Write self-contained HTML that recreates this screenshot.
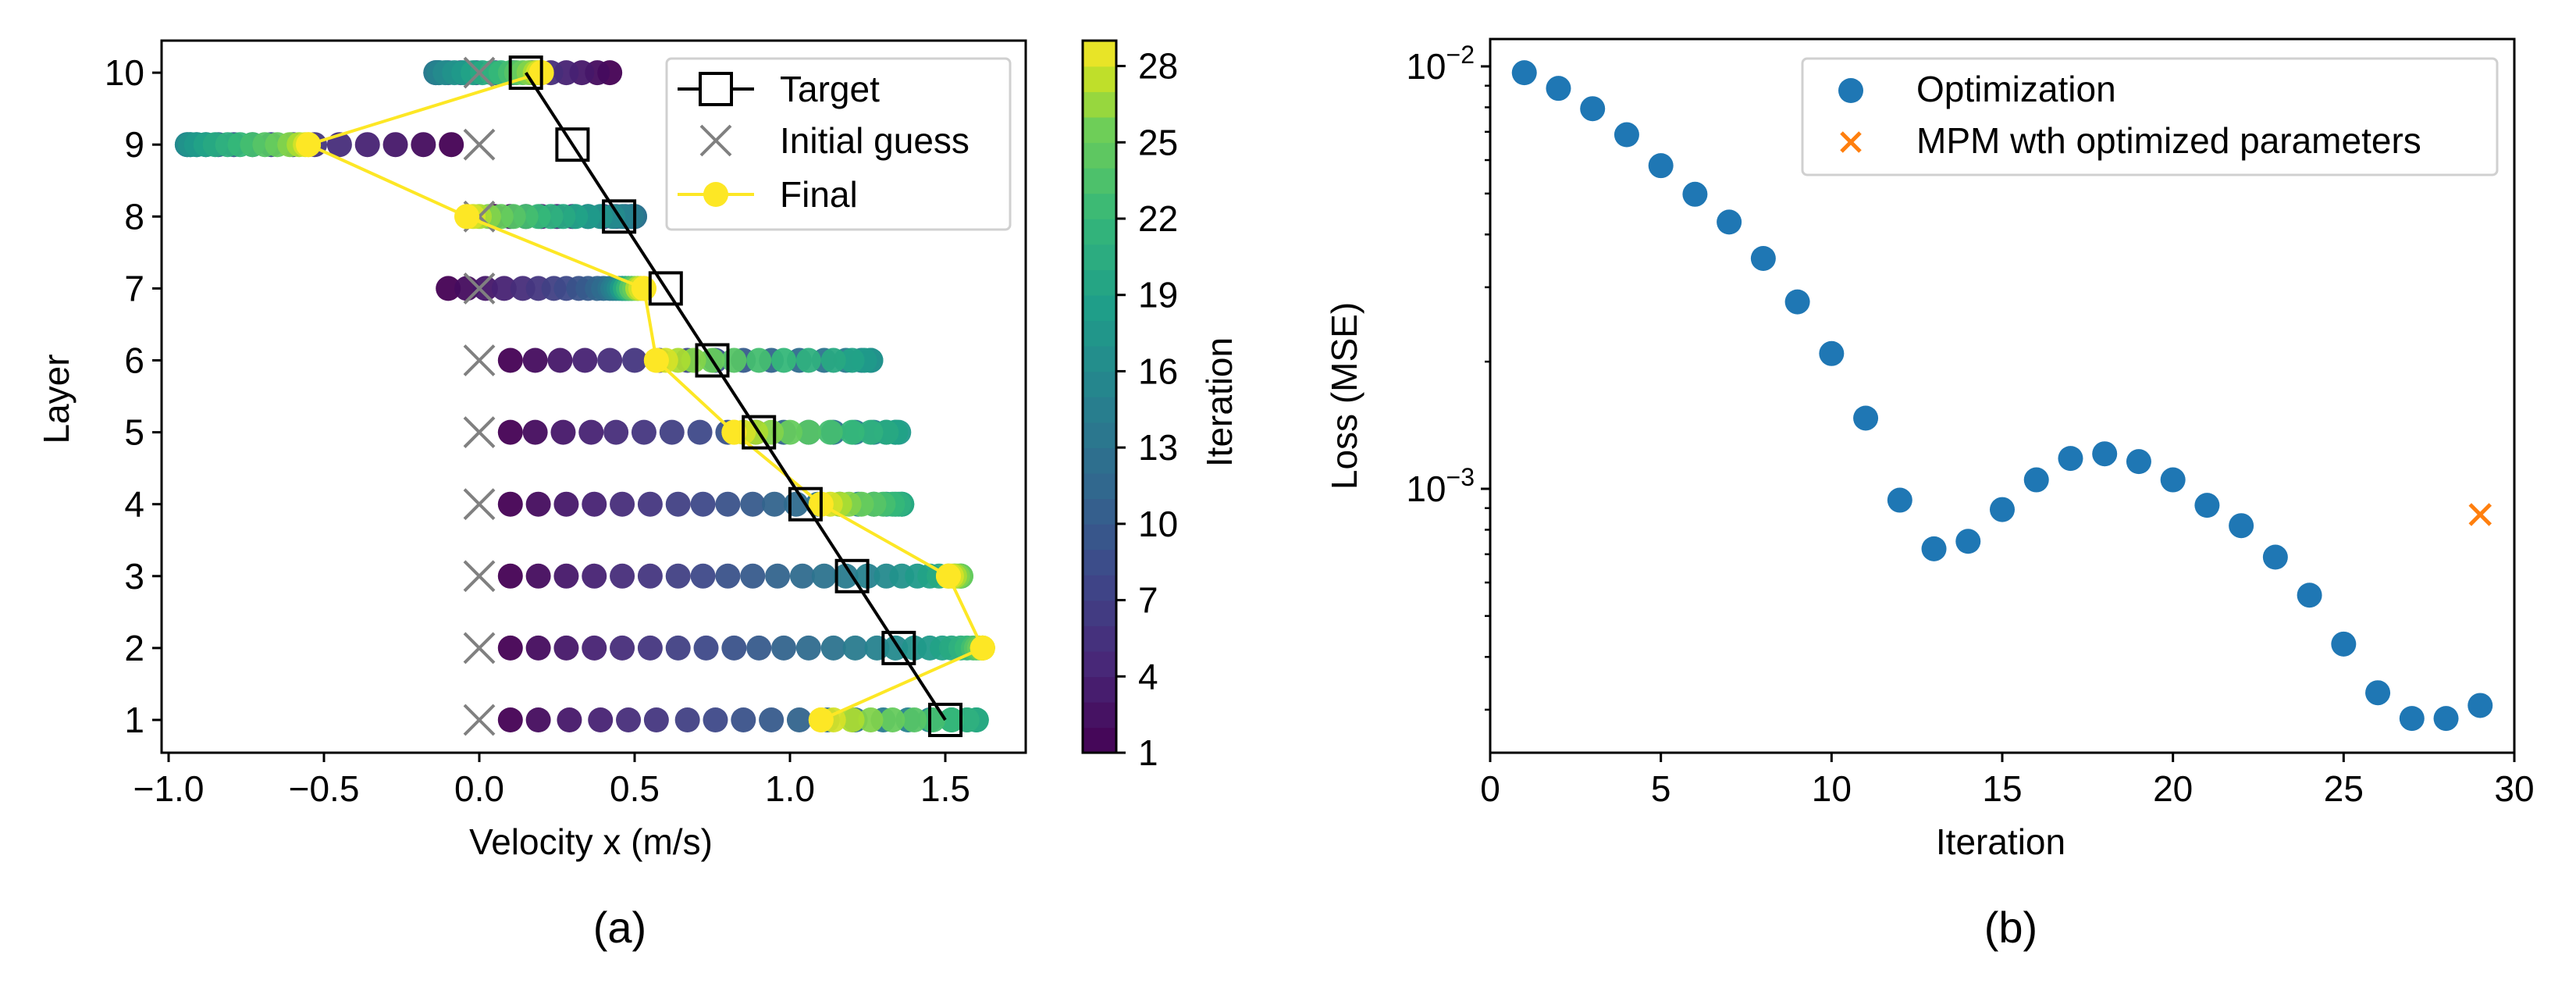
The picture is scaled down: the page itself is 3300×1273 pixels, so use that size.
<!DOCTYPE html>
<html><head><meta charset="utf-8">
<style>
html,body{margin:0;padding:0;background:#fff;}
svg{display:block;}
text{font-family:"Liberation Sans","DejaVu Sans",sans-serif;fill:#000;}
</style></head>
<body>
<svg id="fig" width="3300" height="1273" viewBox="0 0 3300 1273" xmlns="http://www.w3.org/2000/svg">
<rect x="0" y="0" width="3300" height="1273" fill="#fff"/>
<g id="pa"></g>
<g id="pb"></g>
</svg>
<script>
// ---- Panel (a) data ----
const layers = [1,2,3,4,5,6,7,8,9,10];
const iterations = Array.from({length:29},(_, i)=>i+1);
const layer1 = [0.10,0.19,0.29,0.39,0.48,0.57,0.67,0.76,0.85,0.94,1.03,1.12,1.21,1.30,1.38,1.45,1.52,1.57,1.60,1.60,1.57,1.52,1.46,1.40,1.33,1.26,1.20,1.14,1.10];
const layer2 = [0.10,0.19,0.28,0.37,0.46,0.55,0.64,0.73,0.82,0.90,0.98,1.06,1.14,1.21,1.28,1.34,1.40,1.45,1.49,1.52,1.55,1.57,1.59,1.60,1.61,1.62,1.62,1.62,1.62];
const layer3 = [0.10,0.19,0.28,0.37,0.46,0.55,0.64,0.72,0.80,0.88,0.96,1.04,1.11,1.18,1.25,1.31,1.36,1.41,1.45,1.48,1.51,1.53,1.55,1.55,1.55,1.54,1.53,1.52,1.51];
const layer4 = [0.10,0.19,0.28,0.37,0.46,0.55,0.64,0.72,0.80,0.88,0.95,1.02,1.09,1.16,1.22,1.27,1.31,1.34,1.36,1.36,1.35,1.33,1.30,1.27,1.23,1.19,1.16,1.13,1.10];
const layer5 = [0.10,0.18,0.27,0.36,0.44,0.53,0.62,0.71,0.80,0.89,0.98,1.06,1.14,1.21,1.27,1.31,1.34,1.35,1.34,1.31,1.26,1.20,1.13,1.06,1.00,0.94,0.89,0.85,0.82];
const layer6 = [0.10,0.18,0.26,0.34,0.42,0.50,0.58,0.67,0.76,0.85,0.94,1.03,1.11,1.18,1.23,1.26,1.26,1.24,1.20,1.14,1.06,0.98,0.90,0.82,0.75,0.69,0.64,0.60,0.57];
const layer7 = [-0.10,-0.04,0.02,0.08,0.14,0.19,0.24,0.28,0.32,0.35,0.38,0.40,0.42,0.43,0.44,0.45,0.46,0.46,0.47,0.47,0.48,0.48,0.49,0.49,0.50,0.51,0.51,0.52,0.53];
const layer8 = [0.05,0.10,0.15,0.20,0.25,0.30,0.35,0.40,0.44,0.47,0.49,0.50,0.50,0.49,0.46,0.43,0.39,0.35,0.31,0.27,0.23,0.19,0.15,0.11,0.07,0.03,0.00,-0.02,-0.04];
const layer9 = [-0.09,-0.18,-0.27,-0.36,-0.45,-0.53,-0.60,-0.67,-0.73,-0.79,-0.84,-0.88,-0.91,-0.93,-0.94,-0.94,-0.93,-0.91,-0.88,-0.85,-0.81,-0.77,-0.73,-0.69,-0.65,-0.61,-0.58,-0.56,-0.55];
const layer10 = [0.42,0.38,0.33,0.28,0.23,0.17,0.11,0.05,-0.01,-0.06,-0.10,-0.13,-0.14,-0.14,-0.13,-0.11,-0.08,-0.05,-0.02,0.01,0.04,0.07,0.10,0.12,0.14,0.16,0.18,0.19,0.20];
const layerTraj = [layer1,layer2,layer3,layer4,layer5,layer6,layer7,layer8,layer9,layer10];
const targetX = [1.50,1.35,1.20,1.05,0.90,0.75,0.60,0.45,0.30,0.15];
const initialX = [0,0,0,0,0,0,0,0,0,0];
const finalX = [1.10,1.62,1.51,1.10,0.82,0.57,0.53,-0.04,-0.55,0.20];
const xTicksA = [-1.0,-0.5,0.0,0.5,1.0,1.5];
const xTickLabelsA = ["\u22121.0","\u22120.5","0.0","0.5","1.0","1.5"];
const yTicksA = [1,2,3,4,5,6,7,8,9,10];
const cbTicks = [1,4,7,10,13,16,19,22,25,28];

// ---- Panel (b) data ----
const lossIter = [1,2,3,4,5,6,7,8,9,10,11,12,13,14,15,16,17,18,19,20,21,22,23,24,25,26,27,28,29];
const lossVals = [0.00966,0.00887,0.00794,0.00689,0.00582,0.00498,0.00428,0.00351,0.00277,0.00209,0.00147,0.00094,0.000721,0.000751,0.000893,0.00105,0.00118,0.00121,0.00116,0.00105,0.000914,0.000818,0.000689,0.000560,0.000429,0.000329,0.000286,0.000286,0.000307];
const mpmIter = [29];
const mpmVals = [0.000869];
const xTicksB = [0,5,10,15,20,25,30];

const NS="http://www.w3.org/2000/svg";
function mk(parent,tag,attrs,txt){const e=document.createElementNS(NS,tag);for(const k in attrs)e.setAttribute(k,attrs[k]);if(txt!==undefined)e.textContent=txt;parent.appendChild(e);return e;}

const vstops=[[0,[68,1,84]],[0.125,[72,40,120]],[0.25,[62,73,137]],[0.375,[49,104,142]],[0.5,[38,130,142]],[0.625,[31,158,137]],[0.75,[53,183,121]],[0.875,[110,206,88]],[0.9375,[181,222,43]],[1,[253,231,37]]];
function viridis(t){t=Math.max(0,Math.min(1,t));for(let i=1;i<vstops.length;i++){if(t<=vstops[i][0]){const a=vstops[i-1],b=vstops[i];const f=(t-a[0])/(b[0]-a[0]);const c=a[1].map((v,j)=>Math.round(v+(b[1][j]-v)*f));return `rgb(${c[0]},${c[1]},${c[2]})`;}}return 'rgb(253,231,37)';}

// ===== Panel A =====
const A={l:207,r:1314,t:52,b:964};
const ax=v=>614+v*398;
const ay=v=>922-(v-1)*92.1;
const pa=document.getElementById('pa');
const clip=mk(pa,'clipPath',{id:'clipA'});
mk(clip,'rect',{x:A.l,y:A.t,width:A.r-A.l,height:A.b-A.t});
const dotsG=mk(pa,'g',{'clip-path':'url(#clipA)'});


for(let it=0;it<iterations.length;it++){
  for(let li=0;li<layers.length;li++){
    const c=mk(dotsG,'circle',{cx:ax(layerTraj[li][it]),cy:ay(layers[li]),r:16,fill:viridis((iterations[it]-1)/28),'fill-opacity':0.95});
    
    
  }
}
// initial guess X
for(let li=0;li<layers.length;li++){
  const x=ax(initialX[li]),y=ay(layers[li]),s=19;
  const g=mk(pa,'g',{stroke:'#808080','stroke-width':4});
  
  
  mk(g,'line',{x1:x-s,y1:y-s,x2:x+s,y2:y+s});mk(g,'line',{x1:x-s,y1:y+s,x2:x+s,y2:y-s});
}
// final line
let fp=finalX.map((v,i)=>`${ax(v)},${ay(layers[i])}`).join(' ');
const fl=mk(pa,'polyline',{points:fp,fill:'none',stroke:'#fde725','stroke-width':4});


for(let li=0;li<layers.length;li++){
  const c=mk(pa,'circle',{cx:ax(finalX[li]),cy:ay(layers[li]),r:16,fill:'#fde725'});
  
  
}
// target line
let tp=targetX.map((v,i)=>`${ax(v)},${ay(layers[i])}`).join(' ');
const tl=mk(pa,'polyline',{points:tp,fill:'none',stroke:'#000','stroke-width':4});


for(let li=0;li<layers.length;li++){
  const r=mk(pa,'rect',{x:ax(targetX[li])-20,y:ay(layers[li])-20,width:40,height:40,fill:'none',stroke:'#000','stroke-width':4});
  
  
}
// axes frame
const fa=mk(pa,'rect',{x:A.l,y:A.t,width:A.r-A.l,height:A.b-A.t,fill:'none',stroke:'#000','stroke-width':3});


xTicksA.forEach((v,i)=>{
  const x=ax(v);mk(pa,'line',{x1:x,y1:A.b,x2:x,y2:A.b+12,stroke:'#000','stroke-width':3});
  const t=mk(pa,'text',{x:x,y:A.b+62,'font-size':46,'text-anchor':'middle'},xTickLabelsA[i]);
  
  
});
yTicksA.forEach(v=>{
  const y=ay(v);mk(pa,'line',{x1:A.l-12,y1:y,x2:A.l,y2:y,stroke:'#000','stroke-width':3});
  const t=mk(pa,'text',{x:A.l-22,y:y+16,'font-size':46,'text-anchor':'end'},String(v));
  
  
});
let t;
t=mk(pa,'text',{x:757,y:1094,'font-size':46,'text-anchor':'middle'},'Velocity x (m/s)');


t=mk(pa,'text',{x:0,y:0,'font-size':46,'text-anchor':'middle',transform:'translate(88,511) rotate(-90)'},'Layer');


t=mk(pa,'text',{x:794,y:1207,'font-size':56,'text-anchor':'middle'},'(a)');


// legend A
const lgA=mk(pa,'g',{});


mk(lgA,'rect',{x:854,y:75,width:440,height:219,rx:6,fill:'#fff','fill-opacity':0.8,stroke:'#d0d0d0','stroke-width':3});
mk(lgA,'line',{x1:868,y1:114,x2:966,y2:114,stroke:'#000','stroke-width':4});
mk(lgA,'rect',{x:897,y:94,width:40,height:40,fill:'#fff',stroke:'#000','stroke-width':4});
t=mk(lgA,'text',{x:999,y:130,'font-size':46},'Target');


mk(lgA,'line',{x1:898,y1:161,x2:936,y2:199,stroke:'#808080','stroke-width':4});
mk(lgA,'line',{x1:898,y1:199,x2:936,y2:161,stroke:'#808080','stroke-width':4});
t=mk(lgA,'text',{x:999,y:196,'font-size':46},'Initial guess');


mk(lgA,'line',{x1:868,y1:249,x2:966,y2:249,stroke:'#fde725','stroke-width':4});
mk(lgA,'circle',{cx:917,cy:249,r:16,fill:'#fde725'});
t=mk(lgA,'text',{x:999,y:265,'font-size':46},'Final');


// colorbar
const CB={l:1387,r:1430,t:52,b:964};
const cy=v=>CB.b-(v-1)/28*(CB.b-CB.t);
const cbG=mk(pa,'g',{});


for(let k=1;k<=28;k++){
  mk(cbG,'rect',{x:CB.l,y:cy(k+1),width:CB.r-CB.l,height:cy(k)-cy(k+1)+0.8,fill:viridis((k-0.5)/28)});
}
mk(cbG,'rect',{x:CB.l,y:CB.t,width:CB.r-CB.l,height:CB.b-CB.t,fill:'none',stroke:'#000','stroke-width':3});
cbTicks.forEach(v=>{
  const y=cy(v);mk(cbG,'line',{x1:CB.r,y1:y,x2:CB.r+12,y2:y,stroke:'#000','stroke-width':3});
  const tt=mk(cbG,'text',{x:CB.r+28,y:y+16,'font-size':46},String(v));
  
  
});
t=mk(pa,'text',{x:0,y:0,'font-size':46,'text-anchor':'middle',transform:'translate(1578,515) rotate(-90)'},'Iteration');



// ===== Panel B =====
const B={l:1909,r:3221,t:50,b:964};
const bx=v=>B.l+v/30*(B.r-B.l);
const by=v=>626-(Math.log10(v)+3)*541;
const pb=document.getElementById('pb');
lossIter.forEach((it,i)=>{
  const c=mk(pb,'circle',{cx:bx(it),cy:by(lossVals[i]),r:16,fill:'#1f77b4'});
  
  
});
mpmIter.forEach((it,i)=>{
  const x=bx(it),y=by(mpmVals[i]),s=13;
  const g=mk(pb,'g',{stroke:'#ff7f0e','stroke-width':5});
  
  
  mk(g,'line',{x1:x-s,y1:y-s,x2:x+s,y2:y+s});mk(g,'line',{x1:x-s,y1:y+s,x2:x+s,y2:y-s});
});
const fb=mk(pb,'rect',{x:B.l,y:B.t,width:B.r-B.l,height:B.b-B.t,fill:'none',stroke:'#000','stroke-width':3});


xTicksB.forEach(v=>{
  const x=bx(v);mk(pb,'line',{x1:x,y1:B.b,x2:x,y2:B.b+12,stroke:'#000','stroke-width':3});
  const tt=mk(pb,'text',{x:x,y:B.b+62,'font-size':46,'text-anchor':'middle'},String(v));
  
  
});
[0.01,0.001].forEach((v,i)=>{
  const y=by(v);mk(pb,'line',{x1:B.l-12,y1:y,x2:B.l,y2:y,stroke:'#000','stroke-width':3});
  const g=mk(pb,'text',{x:B.l-20,y:y+16,'font-size':46,'text-anchor':'end'});
  
  
  mk(g,'tspan',{},'10');
  mk(g,'tspan',{dy:-20,'font-size':32},i===0?'\u22122':'\u22123');
});
[0.0003,0.0004,0.0005,0.0006,0.0007,0.0008,0.0009,0.002,0.003,0.004,0.005,0.006,0.007,0.008,0.009].forEach(v=>{
  const y=by(v);mk(pb,'line',{x1:B.l-7,y1:y,x2:B.l,y2:y,stroke:'#000','stroke-width':2.5});
});
t=mk(pb,'text',{x:2563,y:1094,'font-size':46,'text-anchor':'middle'},'Iteration');


t=mk(pb,'text',{x:0,y:0,'font-size':46,'text-anchor':'middle',transform:'translate(1738,507) rotate(-90)'},'Loss (MSE)');


t=mk(pb,'text',{x:2576,y:1207,'font-size':56,'text-anchor':'middle'},'(b)');


const lgB=mk(pb,'g',{});


mk(lgB,'rect',{x:2309,y:75,width:890,height:149,rx:6,fill:'#fff','fill-opacity':0.8,stroke:'#d0d0d0','stroke-width':3});
mk(lgB,'circle',{cx:2371,cy:116,r:16,fill:'#1f77b4'});
t=mk(lgB,'text',{x:2455,y:130,'font-size':46},'Optimization');


mk(lgB,'line',{x1:2359,y1:170,x2:2383,y2:194,stroke:'#ff7f0e','stroke-width':5});
mk(lgB,'line',{x1:2359,y1:194,x2:2383,y2:170,stroke:'#ff7f0e','stroke-width':5});
t=mk(lgB,'text',{x:2455,y:196,'font-size':46},'MPM wth optimized parameters');


</script>
</body></html>
